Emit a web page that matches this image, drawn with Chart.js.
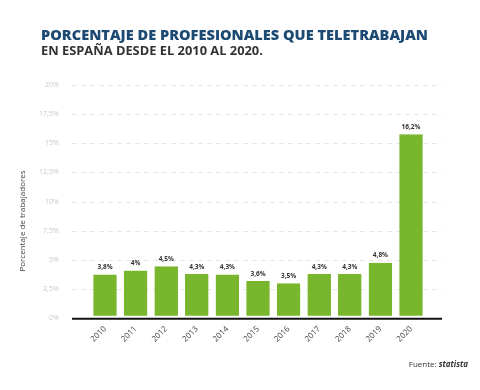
<!DOCTYPE html>
<html lang="es">
<head>
<meta charset="UTF-8">
<title>Teletrabajo en España</title>
<script src="https://cdn.jsdelivr.net/npm/chart.js"></script>
<style>
  body { margin: 0; background: #fff; }
  canvas { display: block; }
</style>
</head>
<body>
<canvas id="chart" width="480" height="390"></canvas>
<script>
  // datos
  var years = ['2010', '2011', '2012', '2013', '2014', '2015', '2016', '2017', '2018', '2019', '2020'];
  var barValues = [3.75, 4.1, 4.45, 3.8, 3.75, 3.2, 3.0, 3.8, 3.8, 4.75, 15.75];
  var barLabels = ['3,8%', '4%', '4,5%', '4,3%', '4,3%', '3,6%', '3,5%', '4,3%', '4,3%', '4,8%', '16,2%'];
  var yTicks = [0, 2.5, 5, 7.5, 10, 12.5, 15, 17.5, 20];

  var titleLine1 = 'PORCENTAJE DE PROFESIONALES QUE TELETRABAJAN';
  var titleLine2 = 'EN ESPAÑA DESDE EL 2010 AL 2020.';
  var yTitle = 'Porcentaje de trabajadores';

  function fitText(ctx, text, weight, family, width) {
    ctx.font = weight + ' 12px ' + family;
    var size = 12 * width / ctx.measureText(text).width;
    ctx.font = weight + ' ' + size + 'px ' + family;
  }

  var extras = {
    id: 'extras',
    beforeDatasetsDraw: function(chart) {
      var ctx = chart.ctx;
      var y = chart.scales.y;
      ctx.save();
      ctx.strokeStyle = '#e6e6e6';
      ctx.lineWidth = 1;
      ctx.setLineDash([5, 4]);
      yTicks.forEach(function(t) {
        if (t === 0) return;
        var py = Math.round(y.getPixelForValue(t)) + 0.5;
        ctx.beginPath();
        ctx.moveTo(72, py);
        ctx.lineTo(442, py);
        ctx.stroke();
      });
      ctx.restore();
    },
    afterDatasetsDraw: function(chart) {
      var ctx = chart.ctx;
      var y = chart.scales.y;
      ctx.save();
      // línea base
      var py0 = y.getPixelForValue(0) + 0.5;
      ctx.strokeStyle = '#111';
      ctx.lineWidth = 2;
      ctx.beginPath();
      ctx.moveTo(72, py0);
      ctx.lineTo(442, py0);
      ctx.stroke();

      // etiquetas de valor
      ctx.fillStyle = '#333';
      ctx.font = 'bold 6.5px "Open Sans"';
      ctx.textAlign = 'center';
      ctx.textBaseline = 'bottom';
      chart.getDatasetMeta(0).data.forEach(function(bar, i) {
        ctx.fillText(barLabels[i], bar.x, bar.y - 4);
      });

      // títulos
      ctx.textAlign = 'left';
      ctx.textBaseline = 'alphabetic';
      ctx.fillStyle = '#1c4a73';
      fitText(ctx, titleLine1, '800', '"Open Sans"', 387);
      ctx.fillText(titleLine1, 41, 40);
      ctx.fillStyle = '#333';
      fitText(ctx, titleLine2, 'bold', '"Open Sans"', 222);
      ctx.fillText(titleLine2, 41, 55);

      // título eje y
      ctx.save();
      ctx.translate(25, 221);
      ctx.rotate(-Math.PI / 2);
      ctx.textAlign = 'center';
      ctx.fillStyle = '#444';
      ctx.font = '8px "Open Sans"';
      ctx.fillText(yTitle, 0, 0);
      ctx.restore();

      // fuente
      ctx.fillStyle = '#333';
      ctx.textAlign = 'right';
      ctx.font = 'italic bold 8px "Open Sans"';
      var w2 = ctx.measureText('statista').width;
      ctx.fillText('statista', 468, 367);
      ctx.font = '8px "Open Sans"';
      ctx.fillText('Fuente: ', 468 - w2, 367);
      ctx.restore();
    }
  };

  new Chart(document.getElementById('chart'), {
    type: 'bar',
    data: {
      labels: years,
      datasets: [{
        data: barValues,
        backgroundColor: '#78b72d',
        borderColor: '#ffffff',
        borderWidth: { top: 0, left: 0, right: 0, bottom: 2.5 },
        borderSkipped: false,
        barPercentage: 0.77,
        categoryPercentage: 1
      }]
    },
    options: {
      responsive: false,
      devicePixelRatio: 1,
      animation: false,
      layout: { padding: { left: 29.7, right: 53.7, top: 84.7, bottom: 32 } },
      plugins: {
        legend: { display: false },
        tooltip: { enabled: false }
      },
      scales: {
        y: {
          min: 0,
          max: 20,
          afterFit: function(s) { s.width = 60; },
          afterBuildTicks: function(s) { s.ticks = yTicks.map(function(v) { return { value: v }; }); },
          grid: { display: false },
          border: { display: false },
          ticks: {
            padding: 23,
            color: '#c8c8c8',
            font: { family: 'Open Sans', size: 7 },
            callback: function(v) { return String(v).replace('.', ',') + '%'; }
          }
        },
        x: {
          afterFit: function(s) { s.height = 39.7; },
          grid: { display: false },
          border: { display: false },
          ticks: {
            minRotation: 45,
            maxRotation: 45,
            padding: -2,
            color: '#444',
            font: { family: 'Open Sans', size: 8 }
          }
        }
      }
    },
    plugins: [extras]
  });
</script>
</body>
</html>
